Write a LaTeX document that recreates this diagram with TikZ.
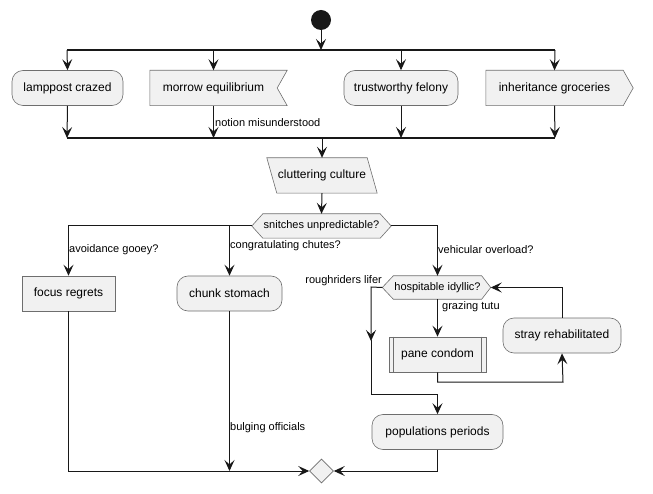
\documentclass[tikz,border=0pt]{standalone}
\usepackage{fontspec}
\setmainfont{Liberation Sans}
\usetikzlibrary{arrows.meta,shapes.geometric}
\definecolor{ln}{HTML}{181818}
\definecolor{bd}{HTML}{6E6E6E}
\definecolor{bg}{HTML}{F1F1F1}
\tikzset{
  x=1pt, y=-1pt,
  nodefont/.style={font=\fontsize{12}{14}\selectfont},
  box/.style={rectangle, draw=bd, fill=bg, line width=0.6pt, minimum height=35pt, inner sep=0pt, nodefont},
  rbox/.style={box, rounded corners=11pt},
  base/.style={rectangle, minimum height=35pt, inner sep=0pt, nodefont},
  outline/.style={draw=bd, fill=bg, line width=0.6pt},
  hexbase/.style={rectangle, minimum height=24pt, inner sep=0pt, font=\fontsize{11}{13}\selectfont},
  flow/.style={draw=ln, line width=1pt, -{Stealth[length=11pt,width=10pt,inset=4.5pt]}},
  wire/.style={draw=ln, line width=1pt},
  bar/.style={draw=ln, line width=2pt},
  lbl/.style={font=\fontsize{11}{13}\selectfont, inner sep=1pt, text=black},
}
\begin{document}
\begin{tikzpicture}
\useasboundingbox (0,0) rectangle (653,494);

% start
\node[circle, fill=ln, minimum size=20pt, inner sep=0pt] (start) at (321,20) {};

% fork and join bars
\coordinate (forkL) at (67,50);
\coordinate (forkR) at (555,50);
\coordinate (joinL) at (67,138);
\coordinate (joinR) at (555,138);

% parallel activities
\node[rbox, minimum width=111pt] (lamp) at (67.5,88) {lamppost crazed};
\node[base, minimum width=127pt] (morrow) at (213.5,88) {};
\draw[outline] (morrow.north west) -- ([xshift=10pt]morrow.north east) -- (morrow.east)
  -- ([xshift=10pt]morrow.south east) -- (morrow.south west) -- cycle;
\node[base, minimum width=127pt] at (morrow) {morrow equilibrium};
\node[rbox, minimum width=114pt] (trust) at (401,88) {trustworthy felony};
\node[base, minimum width=137pt] (inherit) at (554.5,88) {};
\draw[outline] (inherit.north west) -- (inherit.north east) -- ([xshift=10pt]inherit.east)
  -- (inherit.south east) -- (inherit.south west) -- cycle;
\node[base, minimum width=137pt] at (inherit) {inheritance groceries};

% input
\node[base, minimum width=100pt] (clut) at (322,175.5) {};
\draw[outline] ([xshift=-5pt]clut.north west) -- ([xshift=-5pt]clut.north east)
  -- ([xshift=5pt]clut.south east) -- ([xshift=5pt]clut.south west) -- cycle;
\node[base, minimum width=100pt] at (clut) {cluttering culture};

% first decision
\node[hexbase, minimum width=117pt] (snitch) at (321.5,226) {};
\draw[outline] (snitch.north west) -- (snitch.north east) -- ([xshift=11pt]snitch.east)
  -- (snitch.south east) -- (snitch.south west) -- ([xshift=-11pt]snitch.west) -- cycle;
\node[hexbase, minimum width=117pt] at (snitch) {snitches unpredictable?};
\coordinate (snitchW) at ([xshift=-11pt]snitch.west);
\coordinate (snitchE) at ([xshift=11pt]snitch.east);

\node[box, minimum width=93pt] (focus) at (68.5,293.5) {focus regrets};
\node[rbox, minimum width=105pt] (chunk) at (229.5,293.5) {chunk stomach};

% loop decision
\node[hexbase, minimum width=88pt, minimum height=23pt] (hosp) at (437.5,287.5) {};
\draw[outline] (hosp.north west) -- (hosp.north east) -- ([xshift=9pt]hosp.east)
  -- (hosp.south east) -- (hosp.south west) -- ([xshift=-11pt]hosp.west) -- cycle;
\node[hexbase, minimum width=88pt, minimum height=23pt] at (hosp) {hospitable idyllic?};
\coordinate (hospW) at ([xshift=-11pt]hosp.west);
\coordinate (hospE) at ([xshift=9pt]hosp.east);

\node[box, minimum width=97pt] (pane) at (437.5,354.5) {pane condom};
\draw[draw=bd, line width=0.6pt] ([xshift=5pt]pane.north west) -- ([xshift=5pt]pane.south west)
  ([xshift=-5pt]pane.north east) -- ([xshift=-5pt]pane.south east);
\node[rbox, minimum width=118pt] (stray) at (562,335.5) {stray rehabilitated};
\node[rbox, minimum width=131pt] (pop) at (437.5,432) {populations periods};

% merge
\node[diamond, draw=bd, fill=bg, line width=0.6pt, minimum width=24pt, minimum height=24pt, inner sep=0pt] (merge) at (321.5,471) {};

% connectors: fork
\draw[flow] (start) -- (start |- forkL);
\draw[bar] (forkL) -- (forkR);
\draw[flow] (forkL) -- (lamp.north);
\draw[flow] (morrow.north |- forkL) -- (morrow.north);
\draw[flow] (trust.north |- forkL) -- (trust.north);
\draw[flow] (forkR) -- (inherit.north);

% connectors: join
\draw[flow] (lamp.south) -- (joinL);
\draw[flow] (morrow.south) -- (morrow.south |- joinL);
\node[lbl, anchor=west] at (214,123) {notion misunderstood};
\draw[flow] (trust.south) -- (trust.south |- joinL);
\draw[flow] (inherit.south) -- (joinR);
\draw[bar] (joinL) -- (joinR);
\draw[flow] (clut.north |- joinL) -- (clut.north);
\draw[flow] (clut.south) -- (snitch.north);

% decision branches
\draw[flow] (snitchW) -| (focus.north);
\node[lbl, anchor=west] at (68,250) {avoidance gooey?};
\draw[flow] (chunk.north |- snitchW) -- (chunk.north);
\node[lbl, anchor=west] at (229,246) {congratulating chutes?};
\draw[flow] (snitchE) -| (hosp.north);
\node[lbl, anchor=west] at (437,250) {vehicular overload?};

% loop
\draw[flow] (hosp.south) -- (pane.north);
\node[lbl, anchor=west] at (441,307) {grazing tutu};
\coordinate (loopA) at (563,382);
\draw[flow] (pane.south) |- (loopA) -- (stray.south);
\draw[flow] (stray.north) |- (hospE);
\coordinate (exitA) at (371,287);
\coordinate (exitB) at (371,394);
\draw[flow] (hospW) -- (exitA) -- (371,341);
\draw[flow] (371,340) -- (exitB) -| (pop.north);
\node[lbl, anchor=east] at (383,281) {roughriders lifer};

% into the merge
\draw[flow] (pop.south) |- (merge.east);
\draw[flow] (focus.south) |- (merge.west);
\draw[flow] (chunk.south) -- (chunk.south |- merge);
\node[lbl, anchor=west] at (229,428) {bulging officials};
\end{tikzpicture}
\end{document}
